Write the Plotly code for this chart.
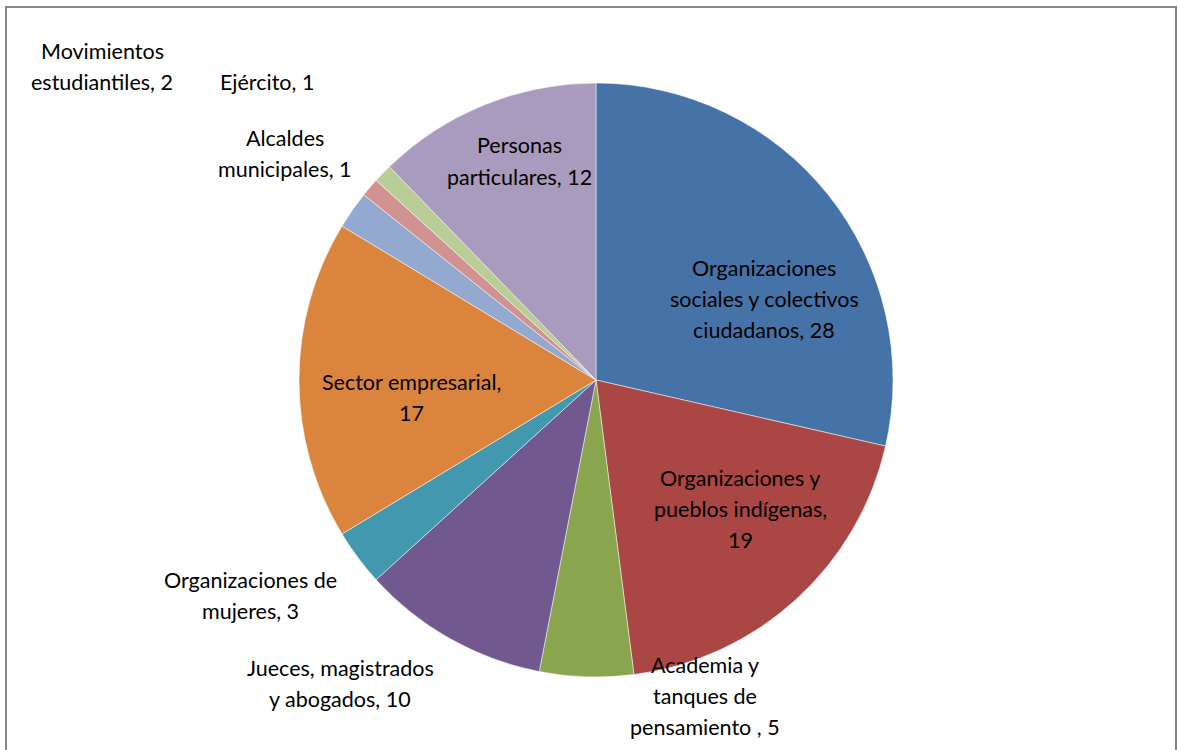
import plotly.graph_objects as go

# ---- data ----
categories = [
    "Organizaciones sociales y colectivos ciudadanos",
    "Organizaciones y pueblos indígenas",
    "Academia y tanques de pensamiento ",
    "Jueces, magistrados y abogados",
    "Organizaciones de mujeres",
    "Sector empresarial",
    "Movimientos estudiantiles",
    "Alcaldes municipales",
    "Ejército",
    "Personas particulares",
]
values = [28, 19, 5, 10, 3, 17, 2, 1, 1, 12]

# display wrapping of each label (line breaks as shown in the chart)
label_lines = [
    ["Organizaciones", "sociales y colectivos", "ciudadanos, {v}"],
    ["Organizaciones y", "pueblos indígenas,", "{v}"],
    ["Academia y", "tanques de", "pensamiento , {v}"],
    ["Jueces, magistrados", "y abogados, {v}"],
    ["Organizaciones de", "mujeres, {v}"],
    ["Sector empresarial,", "{v}"],
    ["Movimientos", "estudiantiles, {v}"],
    ["Alcaldes", "municipales, {v}"],
    ["Ejército, {v}"],
    ["Personas", "particulares, {v}"],
]

colors = ["#4572A7", "#AA4643", "#89A54E", "#71588F", "#4198AF",
          "#DB843D", "#93A9CF", "#D19392", "#B9CD96", "#A99BBD"]

# ---- layout / style ----
W, H = 1178, 750
cx, cy, R = 596, 380, 297
# label centres in pixels (style positions)
label_pos = [(764, 299), (740, 509), (705, 696), (340, 683), (250, 595),
             (411, 397), (102, 67), (285, 153), (267, 82), (519, 161)]
LINE_H = 31
FONT = dict(family="Lato, 'Open Sans', sans-serif", size=21.5, color="#000000")

fig = go.Figure(go.Pie(
    labels=categories,
    values=values,
    sort=False,
    direction="clockwise",
    rotation=0,
    marker=dict(colors=colors, line=dict(color="#FFFFFF", width=0.5)),
    textinfo="none",
    hoverinfo="label+value",
    showlegend=False,
    domain=dict(x=[(cx - R) / W, (cx + R) / W],
                y=[1 - (cy + R) / H, 1 - (cy - R) / H]),
))

annotations = []
for lines, v, (lx, ly) in zip(label_lines, values, label_pos):
    n = len(lines)
    for i, ln in enumerate(lines):
        yy = ly + (i - (n - 1) / 2) * LINE_H
        annotations.append(dict(
            x=lx / W, y=1 - yy / H, xref="paper", yref="paper",
            text=ln.format(v=v), showarrow=False, font=FONT,
            xanchor="center", yanchor="middle"))

fig.update_layout(
    width=W, height=H,
    margin=dict(l=0, r=0, t=0, b=0),
    paper_bgcolor="#FFFFFF",
    plot_bgcolor="#FFFFFF",
    annotations=annotations,
    shapes=[dict(type="rect", xref="paper", yref="paper",
                 x0=6 / W, x1=1176 / W, y0=-0.05, y1=1 - 7 / H,
                 line=dict(color="#878787", width=2))],
)

fig.write_html(
    "out.html",
    config={"displayModeBar": False},
    post_script="document.body.style.margin='0';"
                "document.body.style.overflow='hidden';",
)
